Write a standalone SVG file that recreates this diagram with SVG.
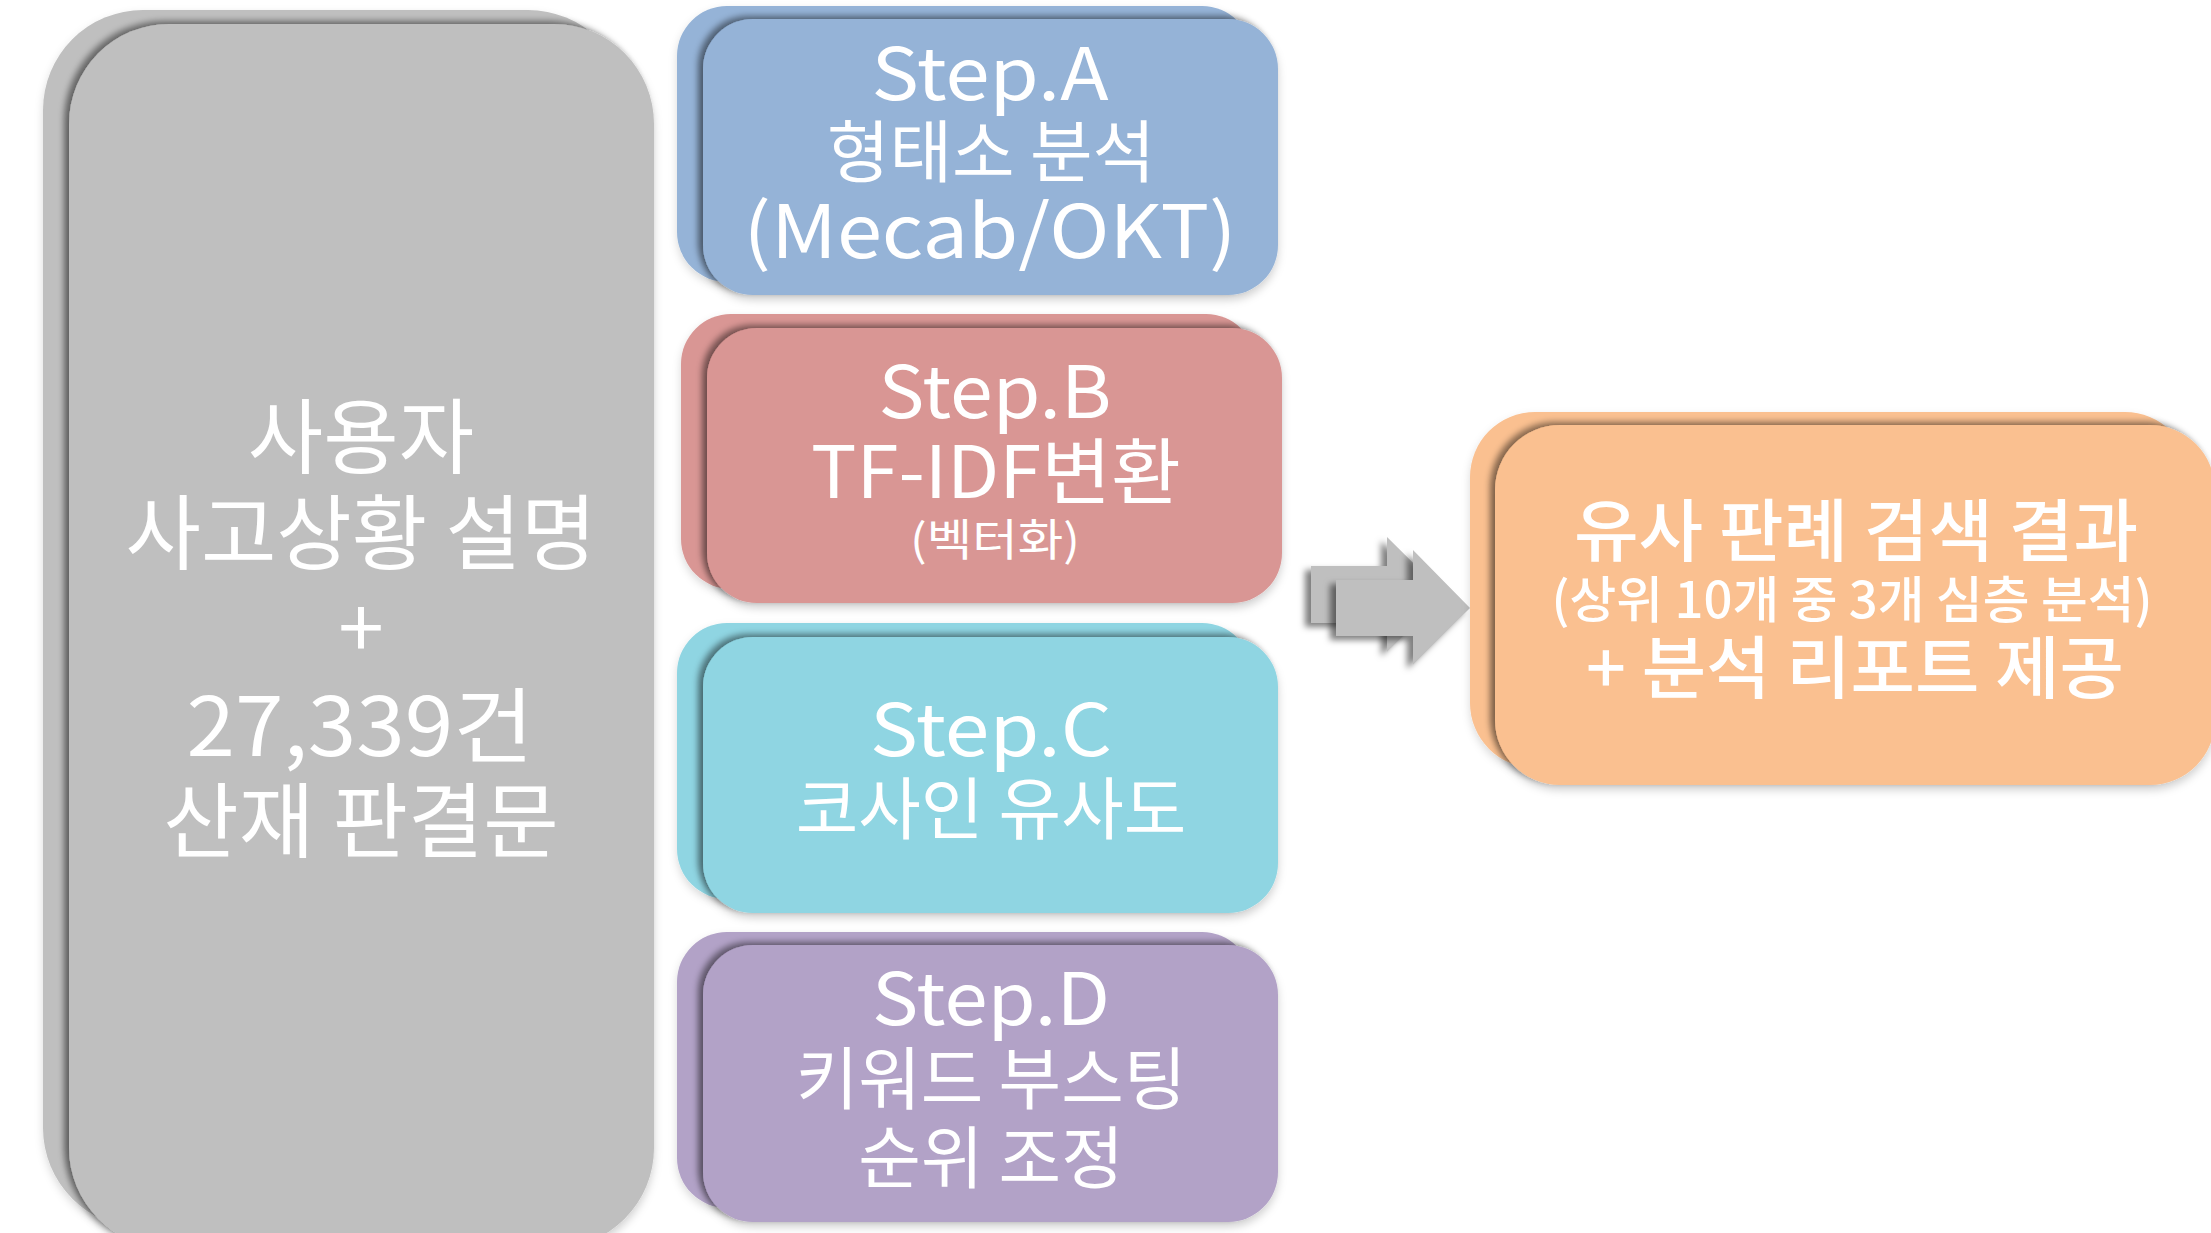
<svg xmlns="http://www.w3.org/2000/svg" width="2211" height="1233" viewBox="0 0 2211 1233">
<defs>
<style>
text{font-family:"Noto Sans CJK KR","Noto Sans",sans-serif;fill:#ffffff;text-anchor:middle;}
.lat{font-size:72px;}
.ko{font-size:68px;}
.big{font-size:82px;}
.or{font-weight:500;}
.gray{fill:#bfbfbf;}
.blue{fill:#95b3d7;}
.red{fill:#d99694;}
.cyan{fill:#8fd5e2;}
.purple{fill:#b2a2c7;}
.orange{fill:#fac090;}
</style>
<filter id="front" x="-10%" y="-10%" width="120%" height="125%">
<feGaussianBlur in="SourceAlpha" stdDeviation="3" result="b1"/>
<feOffset in="b1" dx="-5" dy="-3" result="o1"/>
<feFlood flood-color="#000" flood-opacity="0.45"/>
<feComposite in2="o1" operator="in" result="s1"/>
<feGaussianBlur in="SourceAlpha" stdDeviation="4" result="b2"/>
<feOffset in="b2" dx="0" dy="5" result="o2"/>
<feFlood flood-color="#000" flood-opacity="0.18"/>
<feComposite in2="o2" operator="in" result="s2"/>
<feMerge><feMergeNode in="s2"/><feMergeNode in="s1"/><feMergeNode in="SourceGraphic"/></feMerge>
</filter>
<filter id="back" x="-10%" y="-10%" width="120%" height="125%">
<feDropShadow dx="0" dy="4" stdDeviation="4" flood-color="#000" flood-opacity="0.15"/>
</filter>
<filter id="arr" x="-20%" y="-20%" width="140%" height="140%">
<feDropShadow dx="-6" dy="4" stdDeviation="3" flood-color="#000" flood-opacity="0.5"/>
</filter>
</defs>

<g id="input">
<rect class="gray" x="43" y="10" width="585" height="1218" rx="100" filter="url(#back)"/>
<rect class="gray" x="69" y="24" width="585" height="1224" rx="100" filter="url(#front)"/>
<text class="big" x="361" y="467">사용자</text>
<text class="big" x="361" y="563">사고상황 설명</text>
<text class="big" x="361" y="658">+</text>
<text class="big" x="360" y="756" textLength="347" lengthAdjust="spacingAndGlyphs">27,339건</text>
<text class="big" x="361" y="851">산재 판결문</text>
</g>

<g id="stepA">
<rect class="blue" x="677" y="6" width="575" height="276" rx="50" filter="url(#back)"/>
<rect class="blue" x="703" y="19" width="575" height="276" rx="50" filter="url(#front)"/>
<text class="lat" x="990" y="100" textLength="237" lengthAdjust="spacingAndGlyphs">Step.A</text>
<text class="ko" x="991" y="177">형태소 분석</text>
<text x="990" y="258" font-size="74" textLength="493" lengthAdjust="spacingAndGlyphs">(Mecab/OKT)</text>
</g>

<g id="stepB">
<rect class="red" x="681" y="314" width="575" height="275" rx="50" filter="url(#back)"/>
<rect class="red" x="707" y="328" width="575" height="275" rx="50" filter="url(#front)"/>
<text class="lat" x="995" y="418" textLength="233" lengthAdjust="spacingAndGlyphs">Step.B</text>
<text x="996" y="498" font-size="72" textLength="370" lengthAdjust="spacingAndGlyphs">TF-IDF변환</text>
<text x="995" y="556" font-size="44" textLength="170" lengthAdjust="spacingAndGlyphs">(벡터화)</text>
</g>

<g id="stepC">
<rect class="cyan" x="677" y="623" width="575" height="276" rx="50" filter="url(#back)"/>
<rect class="cyan" x="703" y="637" width="575" height="276" rx="50" filter="url(#front)"/>
<text class="lat" x="991" y="756" textLength="242" lengthAdjust="spacingAndGlyphs">Step.C</text>
<text class="ko" x="991" y="834">코사인 유사도</text>
</g>

<g id="stepD">
<rect class="purple" x="677" y="932" width="575" height="276" rx="50" filter="url(#back)"/>
<rect class="purple" x="703" y="945" width="575" height="277" rx="50" filter="url(#front)"/>
<text class="lat" x="991" y="1025" textLength="238" lengthAdjust="spacingAndGlyphs">Step.D</text>
<text class="ko" x="991" y="1104">키워드 부스팅</text>
<text class="ko" x="991" y="1183">순위 조정</text>
</g>

<g id="connectors">
<polygon class="gray" points="1311,566 1387,566 1387,537 1445,594.5 1387,652 1387,623 1311,623" filter="url(#arr)"/>
<polygon class="gray" points="1336,580 1413,580 1413,550 1470,608 1413,665 1413,636 1336,636" filter="url(#arr)"/>
</g>

<g id="result">
<rect class="orange" x="1470" y="412" width="720" height="356" rx="65" filter="url(#back)"/>
<rect class="orange" x="1495" y="425" width="720" height="360" rx="65" filter="url(#front)"/>
<text class="or" x="1856" y="556" font-size="68" textLength="564" lengthAdjust="spacingAndGlyphs">유사 판례 검색 결과</text>
<text class="or" x="1852" y="618" font-size="50" textLength="601" lengthAdjust="spacingAndGlyphs">(상위 10개 중 3개 심층 분석)</text>
<text class="or" x="1855" y="693" font-size="68" textLength="538" lengthAdjust="spacingAndGlyphs">+ 분석 리포트 제공</text>
</g>
</svg>
